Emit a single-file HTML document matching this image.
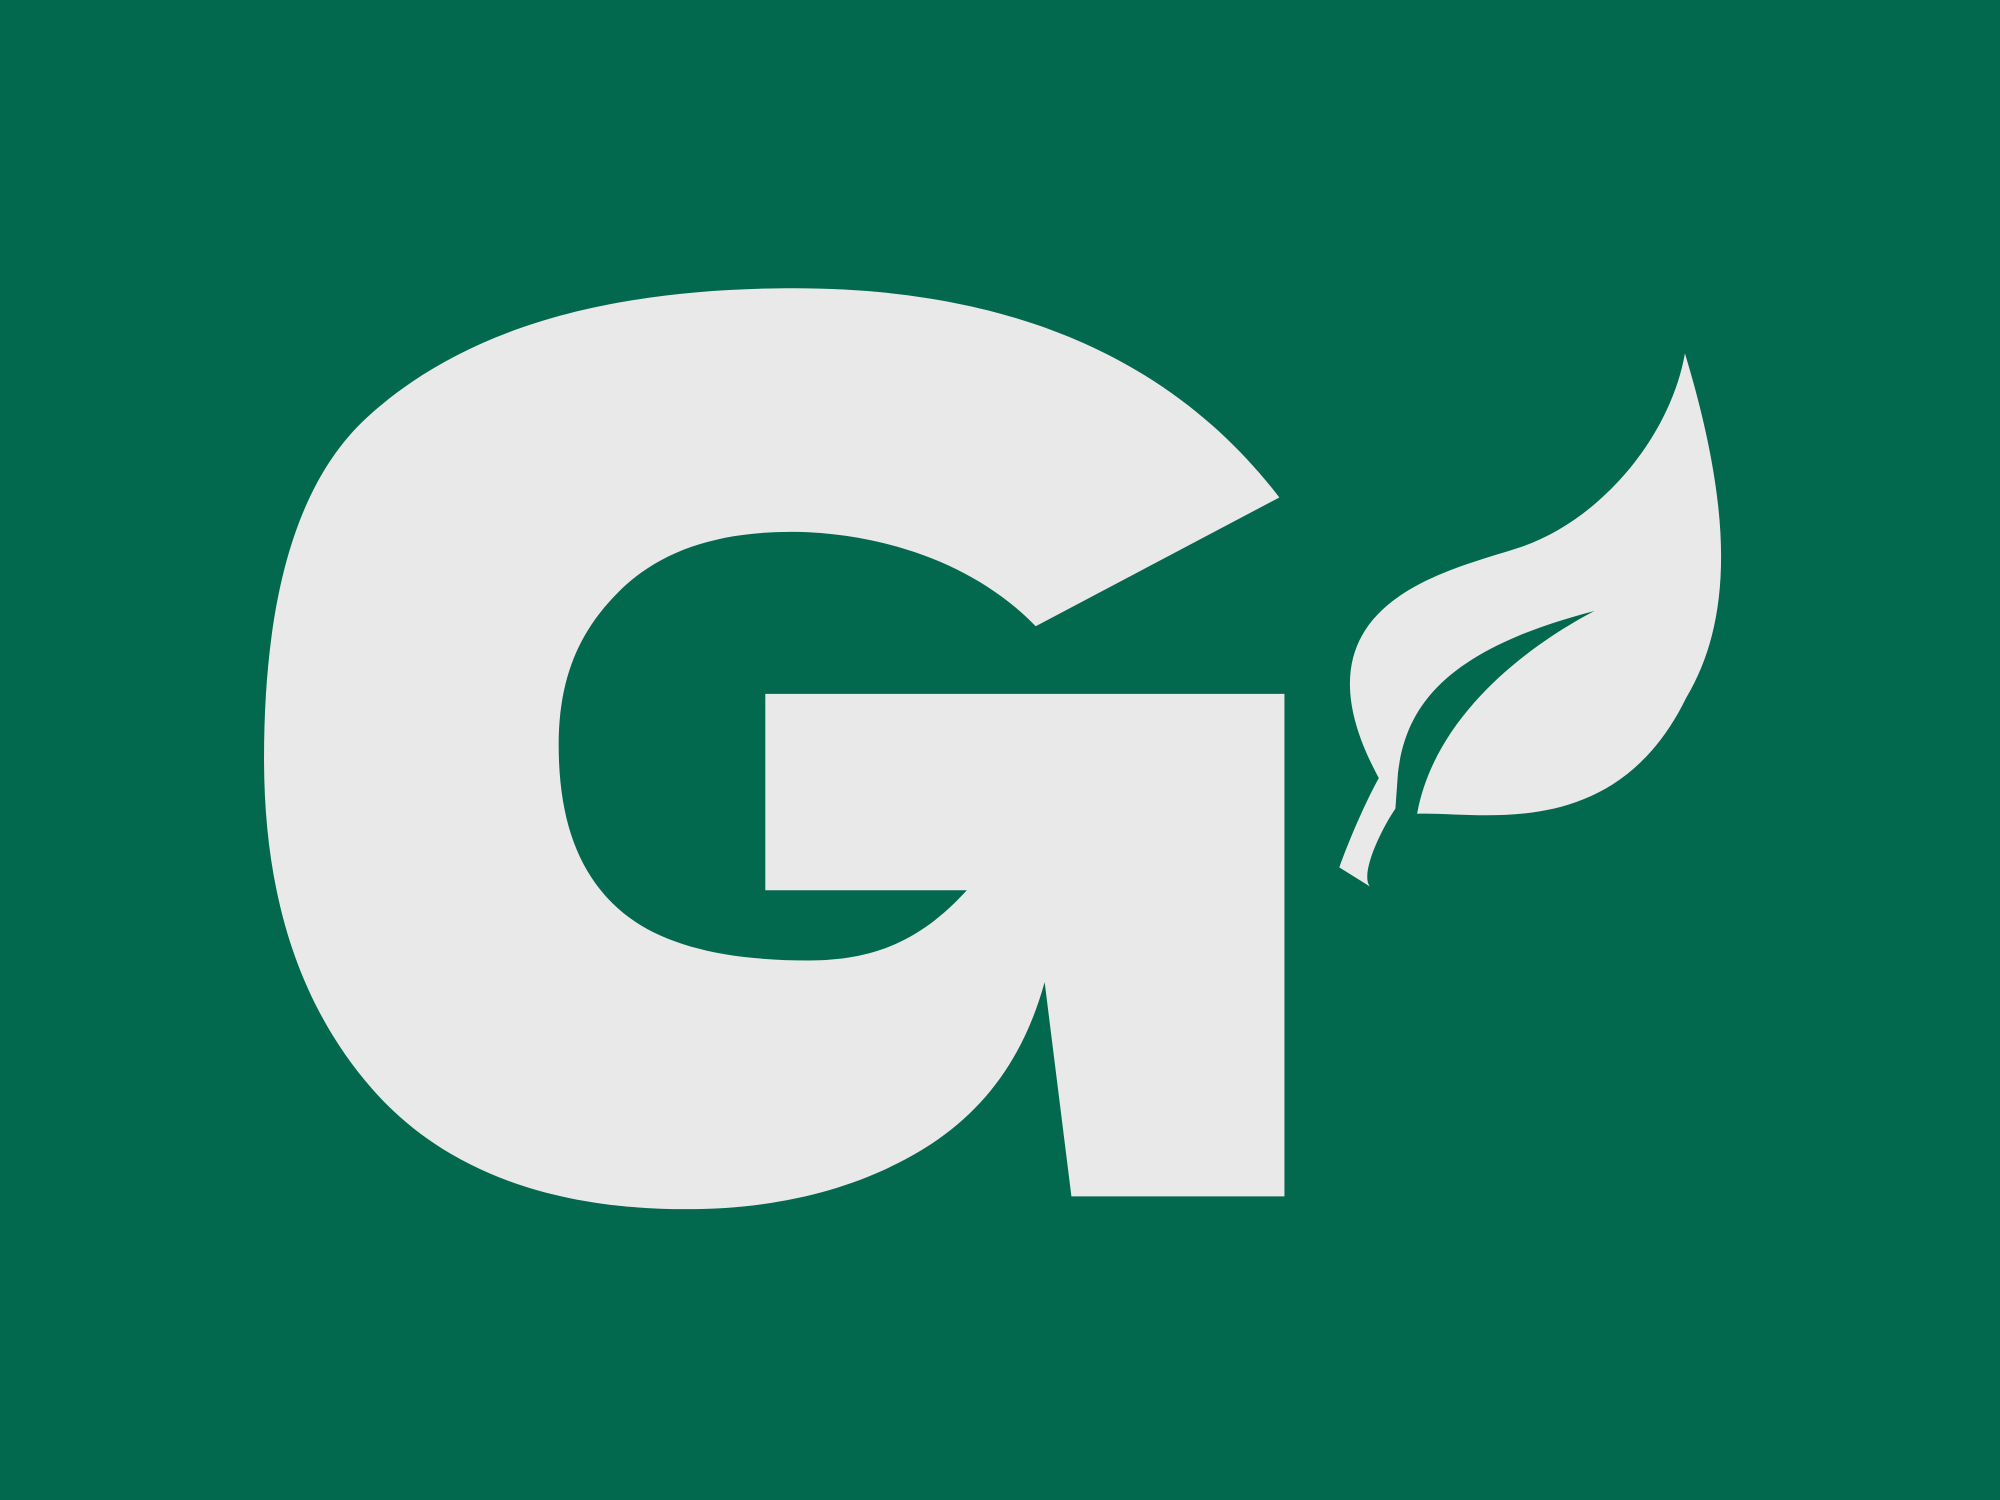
<!DOCTYPE html>
<html>
<head>
<meta charset="utf-8">
<style>
  html,body{margin:0;padding:0;background:#02694F;}
  svg{display:block;}
</style>
</head>
<body>
<svg width="2000" height="1500" viewBox="0 0 1568 1176" xmlns="http://www.w3.org/2000/svg">
  <rect x="0" y="0" width="1568" height="1176" fill="#02694F"/>
  <path fill="#E9E9E9"
    d="M1003,390 C940,308 830,226 623,226 C460,226 356,265 288,327 C230,380 207,475 207,595 C207,705 236,790 292,854 C350,920 436,948 538,948 C610,948 672,932 722,902 C772,872 803,828 819,770 L840,938 L1007,938 L1007,544 L600,544 L600,698 L758,698 C725,734 690,753 634,753 C560,753 510,738 480,708 C452,680 438,640 438,584 C438,530 455,494 485,464 C516,433 560,417 620,417 C682,417 760,437 812,491 Z"/>
  <path fill="#E9E9E9"
    d="M1321,277 C1310,340 1258,405 1195,428 C1140,447 1005,470 1081,610 C1070,630 1058,658 1050,680 L1074,695 C1066,685 1083,650 1094,634 L1096,606 C1102,556 1130,510 1250,479 C1200,505 1125,560 1111,638 C1160,636 1266,662 1322,547 C1362,480 1355,390 1321,277 Z"/>
</svg>
</body>
</html>
